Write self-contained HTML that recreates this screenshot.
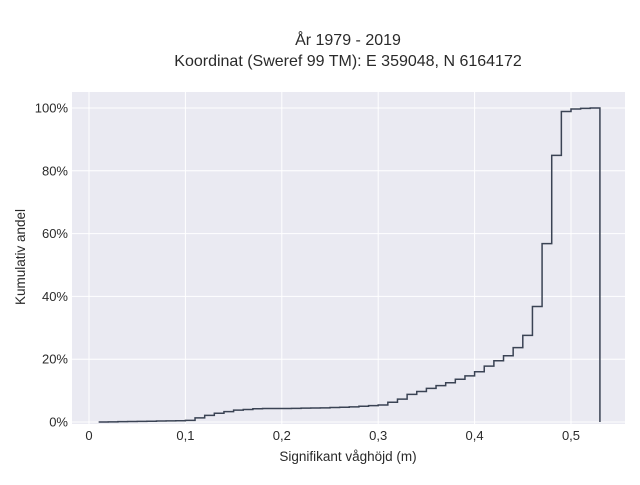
<!DOCTYPE html>
<html><head><meta charset="utf-8"><style>
body{margin:0;background:#fff;font-family:"Liberation Sans",sans-serif;}
svg text{font-family:"Liberation Sans",sans-serif;fill:#2a2a2a;}
</style></head><body>
<svg width="640" height="480">
<g>
<text x="348" y="45" text-anchor="middle" font-size="16">År 1979 - 2019</text>
<text x="348" y="66" text-anchor="middle" font-size="16">Koordinat (Sweref 99 TM): E 359048, N 6164172</text>
</g>
<rect x="72" y="92" width="553" height="332" fill="#eaeaf2"/>
<g id="grid"></g><g id="ticks"></g>
<path id="line" fill="none" stroke="#3a4354" stroke-width="1.5"/>
<text x="348" y="461" text-anchor="middle" font-size="13.5">Signifikant våghöjd (m)</text>
<text transform="translate(25,257) rotate(-90)" text-anchor="middle" font-size="13.5">Kumulativ andel</text>
</svg>
<script>
const binStarts=[0.01,0.02,0.03,0.04,0.05,0.06,0.07,0.08,0.09,0.10,0.11,0.12,0.13,0.14,0.15,0.16,0.17,0.18,0.19,0.20,0.21,0.22,0.23,0.24,0.25,0.26,0.27,0.28,0.29,0.30,0.31,0.32,0.33,0.34,0.35,0.36,0.37,0.38,0.39,0.40,0.41,0.42,0.43,0.44,0.45,0.46,0.47,0.48,0.49,0.50,0.51,0.52];
const cumPercent=[0,0.05,0.1,0.15,0.2,0.25,0.3,0.35,0.4,0.5,1.3,2.1,2.8,3.3,3.8,4.0,4.2,4.3,4.3,4.3,4.35,4.4,4.45,4.5,4.6,4.7,4.8,5.0,5.2,5.4,6.3,7.3,8.8,9.7,10.7,11.6,12.5,13.6,14.7,16.0,17.8,19.5,21.1,23.7,27.6,36.8,56.8,84.9,98.9,99.7,99.9,100];
const binWidth=0.01;
const xTicks=[0,0.1,0.2,0.3,0.4,0.5];
const xTickLabels=["0","0,1","0,2","0,3","0,4","0,5"];
const yTicks=[0,20,40,60,80,100];
const yTickLabels=["0%","20%","40%","60%","80%","100%"];
const X=v=>89+964*v, Y=p=>422-3.14*p;
const NS="http://www.w3.org/2000/svg";
const grid=document.getElementById('grid'), ticks=document.getElementById('ticks');
function mk(tag,attrs,parent){const e=document.createElementNS(NS,tag);for(const k in attrs)e.setAttribute(k,attrs[k]);parent.appendChild(e);return e;}
xTicks.forEach((t,i)=>{
  const l=mk('line',{x1:X(t),x2:X(t),y1:92,y2:424,stroke:'#fff','stroke-width':1},grid);
  
  
  const tx=mk('text',{x:X(t),y:440,'text-anchor':'middle','font-size':13},ticks);
  
  
  tx.textContent=xTickLabels[i];
});
yTicks.forEach((t,i)=>{
  const l=mk('line',{x1:72,x2:625,y1:Y(t),y2:Y(t),stroke:'#fff','stroke-width':1},grid);
  
  
  const tx=mk('text',{x:68,y:Y(t)+4.5,'text-anchor':'end','font-size':13},ticks);
  
  
  tx.textContent=yTickLabels[i];
});
let d='M'+X(binStarts[0])+','+Y(0);
binStarts.forEach((b,i)=>{d+=' L'+X(b)+','+Y(cumPercent[i])+' L'+X(b+binWidth)+','+Y(cumPercent[i]);});
d+=' L'+X(binStarts[binStarts.length-1]+binWidth)+','+Y(0);
document.getElementById('line').setAttribute('d',d);
</script>
</body></html>
